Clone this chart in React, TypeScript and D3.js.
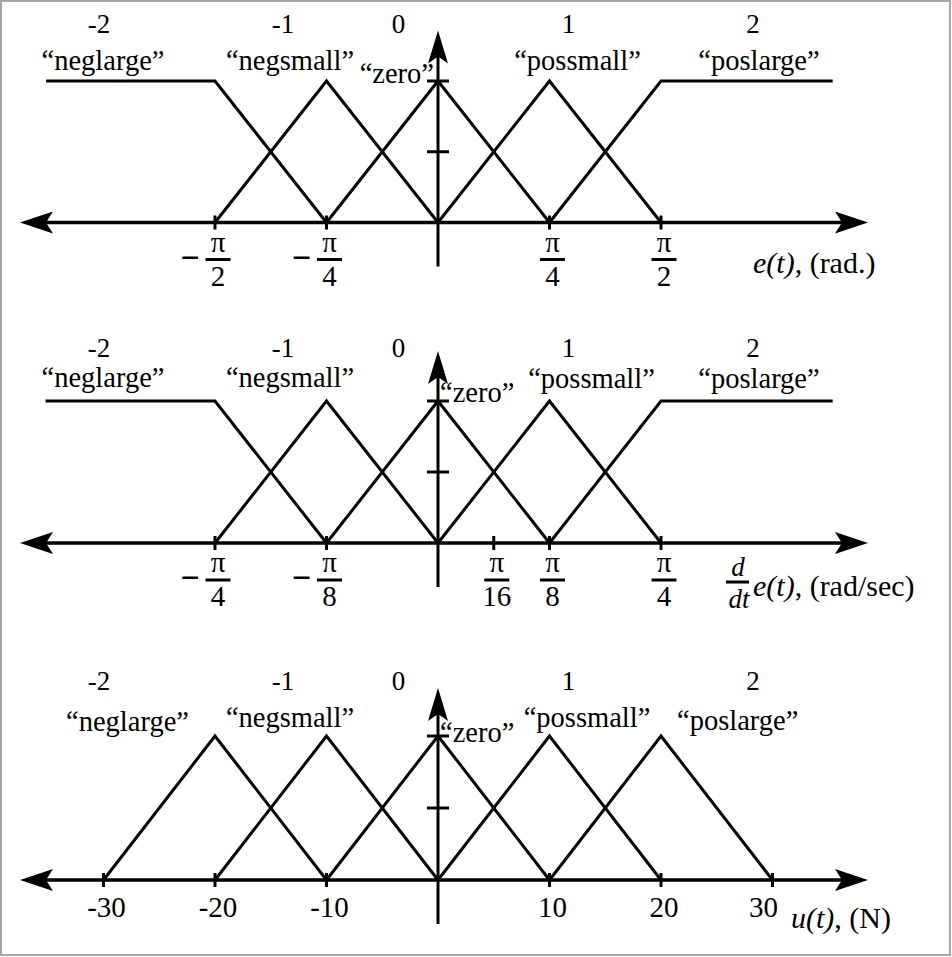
import * as d3 from "d3";

const PI = Math.PI;

// fuzzy set names and their linguistic index
const setNames = ["neglarge", "negsmall", "zero", "possmall", "poslarge"];
const setIndex = ["-2", "-1", "0", "1", "2"];

// e(t), (rad.) membership functions: [value, membership]
const errorSets = [
  [[-2.76, 1], [-PI / 2, 1], [-PI / 4, 0]],
  [[-PI / 2, 0], [-PI / 4, 1], [0, 0]],
  [[-PI / 4, 0], [0, 1], [PI / 4, 0]],
  [[0, 0], [PI / 4, 1], [PI / 2, 0]],
  [[PI / 4, 0], [PI / 2, 1], [2.78, 1]],
];
const errorTicks = [-PI / 2, -PI / 4, PI / 4, PI / 2];
const errorTickLabels = [["−", "π", "2"], ["−", "π", "4"], ["", "π", "4"], ["", "π", "2"]];

// d/dt e(t), (rad/sec)
const rateSets = [
  [[-1.382, 1], [-PI / 4, 1], [-PI / 8, 0]],
  [[-PI / 4, 0], [-PI / 8, 1], [0, 0]],
  [[-PI / 8, 0], [0, 1], [PI / 8, 0]],
  [[0, 0], [PI / 8, 1], [PI / 4, 0]],
  [[PI / 8, 0], [PI / 4, 1], [1.39, 1]],
];
const rateTicks = [-PI / 4, -PI / 8, PI / 16, PI / 8, PI / 4];
const rateTickLabels = [["−", "π", "4"], ["−", "π", "8"], ["", "π", "16"], ["", "π", "8"], ["", "π", "4"]];

// u(t), (N)
const forceSets = [
  [[-30, 0], [-20, 1], [-10, 0]],
  [[-20, 0], [-10, 1], [0, 0]],
  [[-10, 0], [0, 1], [10, 0]],
  [[0, 0], [10, 1], [20, 0]],
  [[10, 0], [20, 1], [30, 0]],
];
const forceTicks = [-30, -20, -10, 10, 20, 30];
const forceTickLabels = ["-30", "-20", "-10", "10", "20", "30"];

const muTicks = [0.5, 1];

const font = "'Liberation Serif', 'Times New Roman', serif";
const idxX = [99, 283, 398.5, 568.5, 753];

const panels = [
  {
    sets: errorSets, domain: [-PI / 2, PI / 2], ticks: errorTicks, frac: errorTickLabels, plain: null,
    axisY: 222.5, peakY: 81, idxY: 33,
    nameX: [103, 290, 434, 577.5, 759], nameY: [70, 70, 83, 70, 70], zeroAnchor: "end",
  },
  {
    sets: rateSets, domain: [-PI / 4, PI / 4], ticks: rateTicks, frac: rateTickLabels, plain: null,
    axisY: 543, peakY: 401, idxY: 357,
    nameX: [103, 290, 440, 591.5, 759], nameY: [387, 387, 402, 388, 388], zeroAnchor: "start",
  },
  {
    sets: forceSets, domain: [-20, 20], ticks: forceTicks, frac: null, plain: forceTickLabels,
    axisY: 880, peakY: 736, idxY: 690,
    nameX: [127.5, 290, 440, 587, 737.7], nameY: [731, 727, 742, 727, 730], zeroAnchor: "start",
  },
];

const Panel = ({ p, k }: any) => {
  const x = d3.scaleLinear().domain(p.domain).range([215, 661]);
  const y = d3.scaleLinear().domain([0, 1]).range([p.axisY, p.peakY]);
  const line = d3.line<number[]>().x(d => x(d[0])).y(d => y(d[1]));
  const x0 = x(0);
  const ay = p.axisY;
  const left = 20, right = 868;
  const top = ay - 192, bottom = ay + 44;

  return (
    <g>
      {/* horizontal axis with arrows */}
      <line x1={left + 10} x2={right - 10} y1={ay} y2={ay} stroke="#000" strokeWidth={3.5} />
      <path d={`M${left},${ay} L${left + 33},${ay - 11} L${left + 26},${ay} L${left + 33},${ay + 11} Z`} fill="#000" />
      <path d={`M${right},${ay} L${right - 33},${ay - 11} L${right - 26},${ay} L${right - 33},${ay + 11} Z`} fill="#000" />
      {/* vertical axis */}
      <line x1={x0} x2={x0} y1={top + 10} y2={bottom} stroke="#000" strokeWidth={3} />
      <path d={`M${x0},${top} L${x0 - 10},${top + 33} L${x0},${top + 26} L${x0 + 10},${top + 33} Z`} fill="#000" />
      {muTicks.map(m => (
        <line key={m} x1={x0 - 11} x2={x0 + 11} y1={y(m)} y2={y(m)} stroke="#000" strokeWidth={3} />
      ))}
      {p.ticks.map((t: number) => (
        <line key={t} x1={x(t)} x2={x(t)} y1={ay - 7} y2={ay + 7} stroke="#000" strokeWidth={3} />
      ))}
      {/* membership functions */}
      {p.sets.map((s: number[][], i: number) => (
        <path key={i} d={line(s) || ""} fill="none" stroke="#000" strokeWidth={3} strokeLinejoin="miter" />
      ))}
      {/* set labels */}
      {setIndex.map((s, i) => (
        <text key={"i" + i} x={idxX[i]} y={p.idxY} textAnchor="middle" fontSize={27} fontFamily={font}>{s}</text>
      ))}
      {setNames.map((s, i) => (
        <text key={"n" + i} x={p.nameX[i]} y={p.nameY[i]} fontSize={28.5} fontFamily={font}
          textAnchor={i === 2 ? p.zeroAnchor : "middle"}>{"\u201C" + s + "\u201D"}</text>
      ))}
      {/* tick labels */}
      {p.frac && p.ticks.map((t: number, i: number) => {
        const cx = x(t) + 3;
        const [sg, num, den] = p.frac[i];
        return (
          <g key={"f" + i} fontFamily={font} fontSize={29}>
            {sg && <text x={cx - 28} y={ay + 46} textAnchor="middle" fontWeight="bold" fontSize={34}>{sg}</text>}
            <text x={cx} y={ay + 29} textAnchor="middle">{num}</text>
            <line x1={cx - 12.5} x2={cx + 12.5} y1={ay + 37} y2={ay + 37} stroke="#000" strokeWidth={3} />
            <text x={cx} y={ay + 63} textAnchor="middle">{den}</text>
          </g>
        );
      })}
      {p.plain && p.ticks.map((t: number, i: number) => (
        <text key={"p" + i} x={x(t) + (i === p.ticks.length - 1 ? -9 : 3)} y={ay + 37} textAnchor="middle"
          fontSize={29} fontFamily={font}>{p.plain[i]}</text>
      ))}
      {/* axis titles */}
      {k === 0 && (
        <text x={753} y={ay + 50} fontSize={30} fontFamily={font}>
          <tspan fontStyle="italic">e(t)</tspan>, (rad.)
        </text>
      )}
      {k === 1 && (
        <g fontFamily={font}>
          <text x={738} y={ay + 33} textAnchor="middle" fontStyle="italic" fontSize={27}>d</text>
          <line x1={726} x2={749} y1={ay + 39} y2={ay + 39} stroke="#000" strokeWidth={3} />
          <text x={739} y={ay + 65} textAnchor="middle" fontStyle="italic" fontSize={27}>dt</text>
          <text x={753} y={ay + 53} fontSize={30}>
            <tspan fontStyle="italic">e(t)</tspan>, (rad/sec)
          </text>
        </g>
      )}
      {k === 2 && (
        <text x={791} y={ay + 48} fontSize={30} fontFamily={font}>
          <tspan fontStyle="italic">u(t)</tspan>, (N)
        </text>
      )}
    </g>
  );
};

const App = () => {
  return (
    <svg width={952} height={957} style={{ position: "absolute", left: 0, top: 0, background: "#fff" }}>
      <rect x={1} y={1} width={949} height={954} fill="#fff" stroke="#a6a6a6" strokeWidth={2} />
      {panels.map((p, k) => <Panel key={k} p={p} k={k} />)}
    </svg>
  );
};

export default App;
